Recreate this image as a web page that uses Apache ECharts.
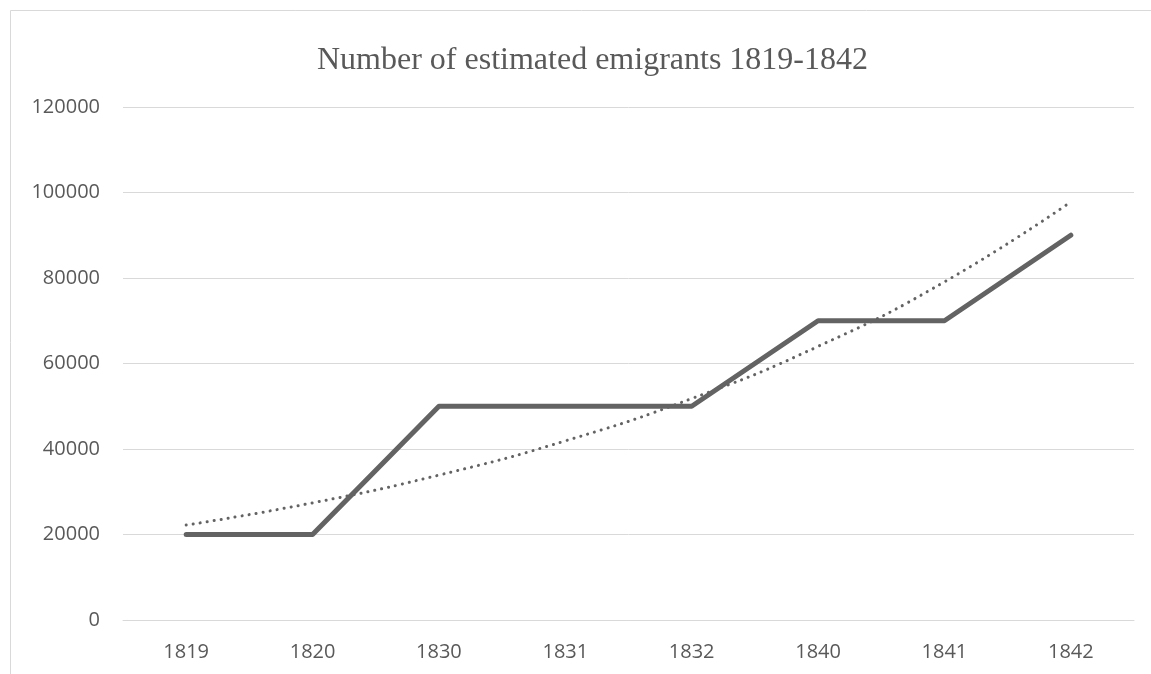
<!DOCTYPE html>
<html>
<head>
<meta charset="utf-8">
<script src="https://cdn.jsdelivr.net/npm/echarts@6/dist/echarts.min.js"></script>
<style>
html,body{margin:0;padding:0;background:#fff;}
#chart{width:1151px;height:674px;}
</style>
</head>
<body>
<div id="chart"></div>
<script>
var titleText = 'Number of estimated emigrants 1819-1842';
var years = ['1819', '1820', '1830', '1831', '1832', '1840', '1841', '1842'];
var emigrants = [20000, 20000, 50000, 50000, 50000, 70000, 70000, 90000];
var trendValues = [22200, 27400, 33900, 41900, 51800, 64000, 79100, 97800];

var chart = echarts.init(document.getElementById('chart'));
chart.setOption({
  backgroundColor: '#ffffff',
  animation: false,
  title: {
    text: titleText,
    left: 312,
    top: 40,
    textStyle: {
      fontFamily: 'Liberation Serif',
      fontWeight: 'normal',
      fontSize: 32,
      color: '#595959'
    }
  },
  graphic: [{
    type: 'polyline',
    shape: { points: [[10.5, 700], [10.5, 10.5], [1200, 10.5]] },
    style: { stroke: '#d9d9d9', lineWidth: 1, fill: null },
    silent: true
  }],
  grid: { left: 123, right: 17, top: 107, bottom: 54 },
  xAxis: {
    type: 'category',
    data: years,
    boundaryGap: true,
    axisLine: { show: true, lineStyle: { color: '#d9d9d9', width: 1 } },
    axisTick: { show: false },
    axisLabel: { color: '#595959', fontSize: 20, fontFamily: 'Open Sans', margin: 22 }
  },
  yAxis: {
    type: 'value',
    min: 0,
    max: 120000,
    interval: 20000,
    axisLine: { show: false },
    axisTick: { show: false },
    axisLabel: {
      color: '#595959', fontSize: 20, fontFamily: 'Open Sans', margin: 23,
      formatter: function (v) { return String(v); }
    },
    splitLine: { lineStyle: { color: '#d9d9d9', width: 1 } }
  },
  series: [{
    name: 'Emigrants',
    type: 'line',
    data: emigrants,
    symbol: 'none',
    lineStyle: { color: '#636363', width: 5, cap: 'round', join: 'round' },
    z: 3
  }, {
    name: 'Trend',
    type: 'line',
    data: trendValues,
    symbol: 'none',
    smooth: true,
    lineStyle: { color: '#636363', width: 3, type: [0.1, 7], cap: 'round' },
    z: 2
  }]
});
</script>
</body>
</html>
